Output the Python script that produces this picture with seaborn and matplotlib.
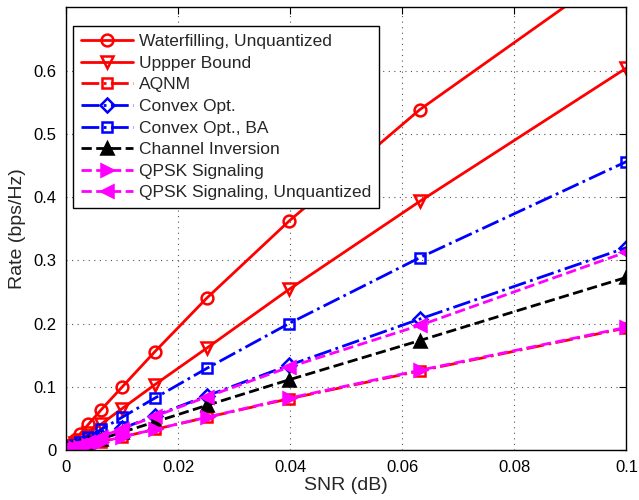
import matplotlib
matplotlib.use("Agg")
import matplotlib.pyplot as plt
import seaborn as sns

# SNR sample points (linear scale)
snr = [0.0001, 0.000158, 0.000251, 0.000398, 0.000631, 0.001, 0.00158, 0.00251,
       0.00398, 0.00631, 0.01, 0.0158, 0.0251, 0.0398, 0.0631, 0.1]

waterfilling = [0.0010, 0.0016, 0.0025, 0.0040, 0.0063, 0.0100, 0.0159, 0.0255,
                0.0405, 0.0640, 0.0995, 0.155, 0.240, 0.362, 0.538, 0.770]
upper_bound = [0.00066, 0.00104, 0.00165, 0.0026, 0.0041, 0.0066, 0.0104, 0.0165,
               0.0261, 0.0412, 0.0655, 0.103, 0.161, 0.254, 0.393, 0.604]
aqnm = [0.00021, 0.00033, 0.00052, 0.00083, 0.00131, 0.0021, 0.0033, 0.0052,
        0.0082, 0.0130, 0.0206, 0.0325, 0.0515, 0.081, 0.125, 0.193]
convex_opt = [0.00034, 0.00054, 0.00086, 0.00136, 0.00215, 0.0034, 0.0054, 0.0086,
              0.0136, 0.0215, 0.0340, 0.0540, 0.0855, 0.134, 0.207, 0.320]
convex_opt_ba = [0.00052, 0.00083, 0.00131, 0.00208, 0.0033, 0.0052, 0.0082, 0.0131,
                 0.0207, 0.0327, 0.0517, 0.0818, 0.129, 0.200, 0.304, 0.456]
channel_inv = [0.00028, 0.00044, 0.0007, 0.00111, 0.00176, 0.0028, 0.0044, 0.0070,
               0.0111, 0.0176, 0.0279, 0.0442, 0.0705, 0.111, 0.173, 0.273]
qpsk = [0.00021, 0.00033, 0.00052, 0.00083, 0.00131, 0.0021, 0.0033, 0.0052,
        0.0082, 0.0130, 0.0206, 0.0326, 0.0517, 0.082, 0.126, 0.194]
qpsk_unq = [0.00034, 0.00053, 0.00084, 0.00134, 0.00212, 0.0034, 0.0053, 0.0084,
            0.0133, 0.0211, 0.0335, 0.0530, 0.0840, 0.131, 0.197, 0.313]

x_ticks = [0, 0.02, 0.04, 0.06, 0.08, 0.1]
x_tick_labels = ["0", "0.02", "0.04", "0.06", "0.08", "0.1"]
y_ticks = [0, 0.1, 0.2, 0.3, 0.4, 0.5, 0.6]
y_tick_labels = ["0", "0.1", "0.2", "0.3", "0.4", "0.5", "0.6"]

sns.set_style("white")
plt.rcParams["font.family"] = ["Liberation Sans", "DejaVu Sans"]

fig = plt.figure(figsize=(6.39, 5.0), dpi=100)
ax = fig.add_axes([0.1033, 0.10, 0.877, 0.8854])

series = [
    ("Waterfilling, Unquantized", waterfilling, "red", "-", "o", "none"),
    ("Uppper Bound", upper_bound, "red", "-", "v", "none"),
    ("AQNM", aqnm, "red", "-.", "s", "none"),
    ("Convex Opt.", convex_opt, "blue", "-.", "D", "none"),
    ("Convex Opt., BA", convex_opt_ba, "blue", "-.", "s", "none"),
    ("Channel Inversion", channel_inv, "black", "--", "^", "black"),
    ("QPSK Signaling", qpsk, "magenta", "--", ">", "magenta"),
    ("QPSK Signaling, Unquantized", qpsk_unq, "magenta", "--", "<", "magenta"),
]

for label, vals, col, ls, mk, mfc in series:
    msize = 7 if mk in ("s", "D") else 8.5
    sns.lineplot(x=snr, y=vals, ax=ax, label=label, color=col, linestyle=ls,
                 marker=mk, markersize=msize, markerfacecolor=mfc,
                 markeredgecolor=col, markeredgewidth=1.8, linewidth=2,
                 estimator=None, sort=False)

ax.set_xlim(0, 0.1)
ax.set_ylim(0, 0.7)
ax.set_xticks(x_ticks)
ax.set_xticklabels(x_tick_labels)
ax.set_yticks(y_ticks)
ax.set_yticklabels(y_tick_labels)
ax.tick_params(direction="in", top=True, right=True, length=5, width=0.8,
               labelsize=12, colors="black")
ax.tick_params(axis="x", pad=7)
ax.tick_params(axis="y", pad=7)
ax.grid(True, linestyle=(0, (1, 4)), color="#555555", linewidth=0.8)
for sp in ax.spines.values():
    sp.set_color("black")
    sp.set_linewidth(1.0)

ax.set_xlabel("SNR (dB)", fontsize=14, labelpad=2)
ax.set_ylabel("Rate (bps/Hz)", fontsize=14, labelpad=5)

leg = ax.legend(loc="upper left", bbox_to_anchor=(0.0125, 0.957),
                borderaxespad=0, fontsize=12.5, frameon=True, fancybox=False,
                edgecolor="black", framealpha=1, handlelength=3.0,
                labelspacing=0.37, borderpad=0.45, handletextpad=0.35)
leg.get_frame().set_linewidth(1.0)

fig.savefig("out.png", dpi=100)
